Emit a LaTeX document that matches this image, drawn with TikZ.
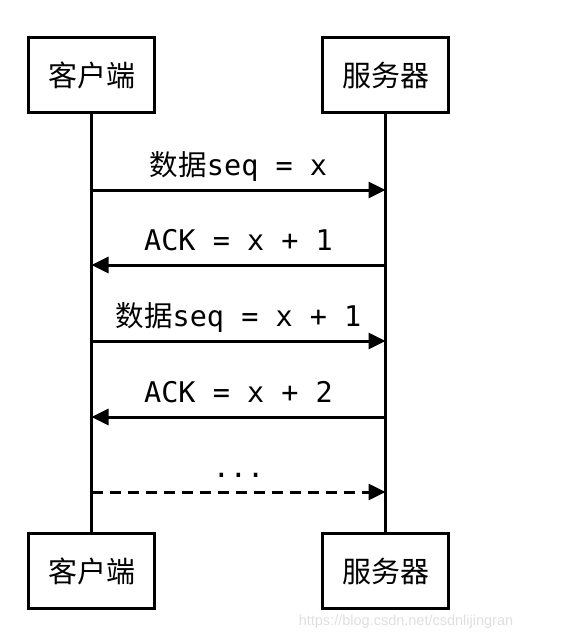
\documentclass[tikz,border=0pt]{standalone}
\usepackage{fontspec}
\setmonofont{DejaVu Sans Mono}
\newfontfamily\cjk{Noto Sans CJK SC}
\newfontfamily\wmfont{Liberation Sans}
\usetikzlibrary{arrows.meta}
\tikzset{
  party/.style={draw,line width=3pt,minimum width=126pt,minimum height=75pt,inner sep=0pt,
    font=\cjk\fontsize{29}{29}\selectfont},
  life/.style={line width=3pt},
  msg/.style={line width=3pt,-{Triangle[length=17pt,width=16pt]}},
  lbl/.style={anchor=base,yshift=15pt,inner sep=0pt,font=\ttfamily\fontsize{28.5}{28.5}\selectfont}
}
\begin{document}
\begin{tikzpicture}[x=1pt,y=-1pt]
  \useasboundingbox (0,0) rectangle (560,640);
  \draw
    (91.5,75) node[party] (ct){客户端}
    (385.5,75) node[party] (st){服务器}
    (91.5,571) node[party] (cb){客户端}
    (385.5,571) node[party] (sb){服务器};
  \draw[life] (ct) -- (cb);
  \draw[life] (st) -- (sb);
  % points on the lifelines
  \coordinate (c1) at (91.5,190);  \coordinate (s1) at (385.5,190);
  \coordinate (c2) at (91.5,265);  \coordinate (s2) at (385.5,265);
  \coordinate (c3) at (91.5,341);  \coordinate (s3) at (385.5,341);
  \coordinate (c4) at (91.5,417);  \coordinate (s4) at (385.5,417);
  \coordinate (c5) at (91.5,492);  \coordinate (s5) at (385.5,492);
  \begin{scope}[msg]
    \draw (c1) -- node[lbl] (m1){{\cjk 数据}seq = x} (s1);
    \draw (s2) -- node[lbl] (m2){ACK = x + 1} (c2);
    \draw (c3) -- node[lbl] (m3){{\cjk 数据}seq = x + 1} (s3);
    \draw (s4) -- node[lbl] (m4){ACK = x + 2} (c4);
    \draw[dash pattern=on 11pt off 7pt] (c5) -- node[lbl] (m5){...} (s5);
  \end{scope}
  \node[font=\wmfont\fontsize{14.5}{14.5}\selectfont,text=gray!25] (wm) at (406,622)
    {https://blog.csdn.net/csdnlijingran};
\end{tikzpicture}
\end{document}
